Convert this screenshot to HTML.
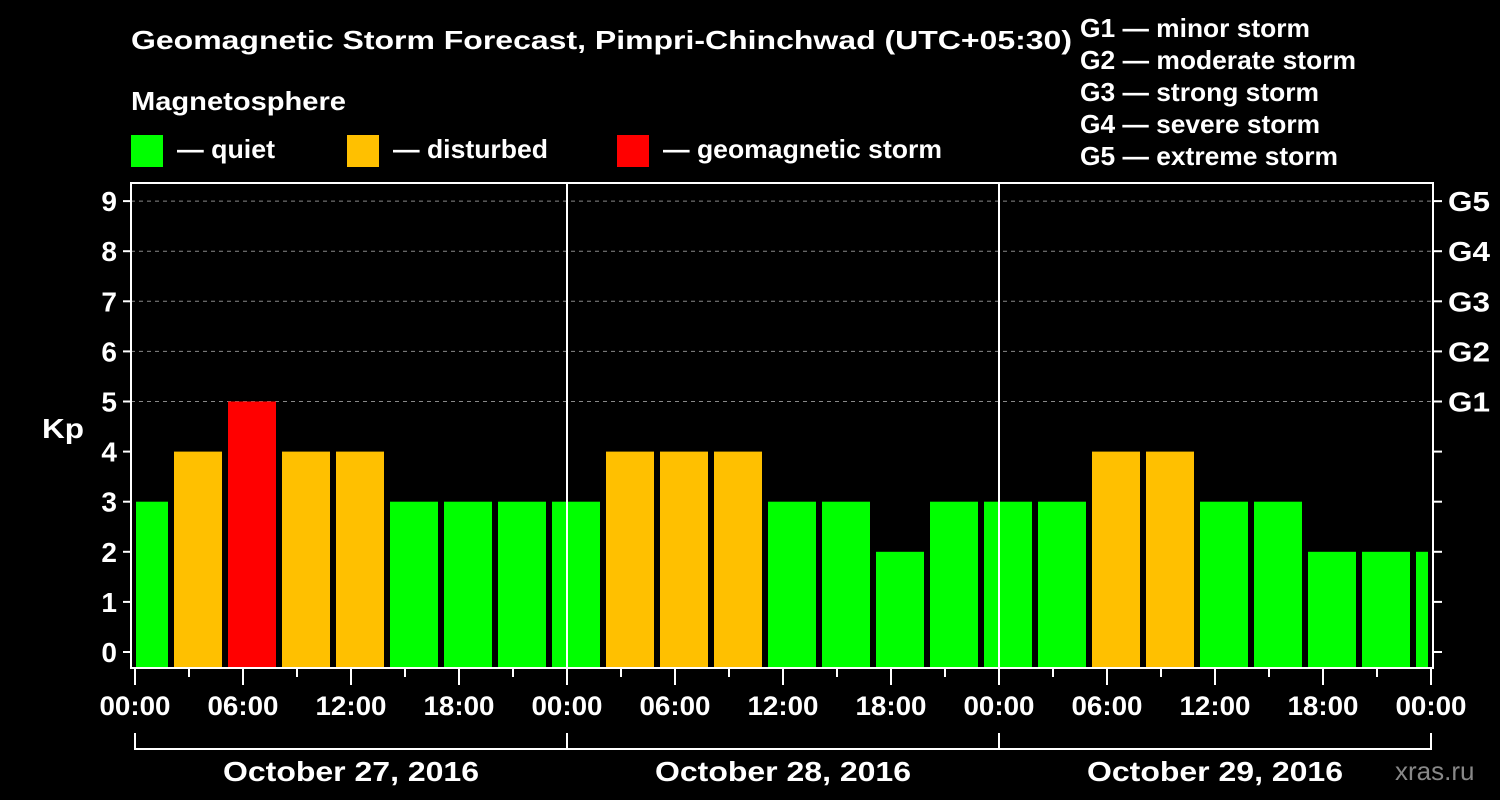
<!DOCTYPE html>
<html><head><meta charset="utf-8"><style>
body{margin:0;background:#000;}
svg{display:block;font-family:"Liberation Sans",Arial,sans-serif;font-weight:bold;}
</style></head><body>
<svg id="chart" width="1500" height="800" viewBox="0 0 1500 800">
<rect width="1500" height="800" fill="#000"/>
<text x="131" y="49" fill="#fff" font-size="26" textLength="941" lengthAdjust="spacingAndGlyphs">Geomagnetic Storm Forecast, Pimpri-Chinchwad (UTC+05:30)</text>
<text x="131" y="110" fill="#fff" font-size="26" textLength="215" lengthAdjust="spacingAndGlyphs">Magnetosphere</text>
<g><rect x="131" y="135" width="32" height="32" fill="#00ff00"/><text x="177" y="158" fill="#fff" font-size="26" textLength="98" lengthAdjust="spacingAndGlyphs">— quiet</text></g>
<g><rect x="347" y="135" width="32" height="32" fill="#ffc000"/><text x="393" y="158" fill="#fff" font-size="26" textLength="155" lengthAdjust="spacingAndGlyphs">— disturbed</text></g>
<g><rect x="617" y="135" width="32" height="32" fill="#ff0000"/><text x="663" y="158" fill="#fff" font-size="26" textLength="279" lengthAdjust="spacingAndGlyphs">— geomagnetic storm</text></g>
<g fill="#fff" font-size="26">
<text x="1080" y="37" textLength="230" lengthAdjust="spacingAndGlyphs">G1 — minor storm</text>
<text x="1080" y="69" textLength="276" lengthAdjust="spacingAndGlyphs">G2 — moderate storm</text>
<text x="1080" y="101" textLength="239" lengthAdjust="spacingAndGlyphs">G3 — strong storm</text>
<text x="1080" y="133" textLength="240" lengthAdjust="spacingAndGlyphs">G4 — severe storm</text>
<text x="1080" y="165" textLength="258" lengthAdjust="spacingAndGlyphs">G5 — extreme storm</text>
</g>
<text x="42" y="438" fill="#fff" font-size="28" textLength="42" lengthAdjust="spacingAndGlyphs">Kp</text>
<g id="grid"></g><g id="bars"></g><g id="axes"></g>
<text x="1395" y="780" fill="#888" font-size="26" font-weight="normal">xras.ru</text>
</svg>
<script>
const kpValues=[3,4,5,4,4,3,3,3,3,4,4,4,3,3,2,3,3,3,4,4,3,3,2,2,2];
const dayLabels=["October 27, 2016","October 28, 2016","October 29, 2016"];
const yTicks=[0,1,2,3,4,5,6,7,8,9];
const gLabels=["G1","G2","G3","G4","G5"];
const xTickLabels=["00:00","06:00","12:00","18:00"];
const NS="http://www.w3.org/2000/svg";
const L=131,R=1433,T=183,B=668,X0=135,PXH=18;
const y=v=>652-50.1*v;
const x=h=>X0+h*PXH;
function mk(tag,attrs,parent,text){const e=document.createElementNS(NS,tag);for(const k in attrs)e.setAttribute(k,attrs[k]);if(text!==undefined)e.textContent=text;document.getElementById(parent).appendChild(e);return e;}
for(let v=5;v<=9;v++){const g=mk('line',{x1:L,x2:R,y1:y(v),y2:y(v),stroke:'#888','stroke-dasharray':'4,4','stroke-width':1},'grid');

}
kpValues.forEach((v,i)=>{const c=0.5+3*i;let x1=Math.max(x(c-4/3),L+5),x2=Math.min(x(c+4/3),R-5);
const col=v>=5?'#ff0000':(v>=4?'#ffc000':'#00ff00');
const b=mk('rect',{x:x1,y:y(v),width:x2-x1,height:B-y(v),fill:col},'bars');

});
const f=mk('rect',{x:L,y:T,width:R-L,height:B-T,fill:'none',stroke:'#fff','stroke-width':2},'axes');


for(let d=1;d<3;d++){const l=mk('line',{x1:x(24*d),x2:x(24*d),y1:T,y2:B,stroke:'#fff','stroke-width':2},'axes');

}
yTicks.forEach(v=>{mk('line',{x1:L-8,x2:L,y1:y(v),y2:y(v),stroke:'#fff','stroke-width':2},'axes');
mk('line',{x1:R,x2:R+9,y1:y(v),y2:y(v),stroke:'#fff','stroke-width':2},'axes');
const t=mk('text',{x:L-14,y:y(v)+10,fill:'#fff','font-size':28,'text-anchor':'end'},'axes',String(v));

});
gLabels.forEach((g,i)=>{const t=mk('text',{x:1448,y:y(5+i)+10,fill:'#fff','font-size':28,textLength:42,lengthAdjust:'spacingAndGlyphs'},'axes',g);

});
for(let h=0;h<=72;h+=3){const major=h%6===0;mk('line',{x1:x(h),x2:x(h),y1:B,y2:major?685:677,stroke:'#fff','stroke-width':2},'axes');
if(major){const t=mk('text',{x:x(h),y:715,fill:'#fff','font-size':27,'text-anchor':'middle',textLength:71,lengthAdjust:'spacingAndGlyphs'},'axes',xTickLabels[(h/6)%4]);

}}
mk('line',{x1:x(0),x2:x(72),y1:749,y2:749,stroke:'#fff','stroke-width':2},'axes');
for(let d=0;d<=3;d++)mk('line',{x1:x(24*d),x2:x(24*d),y1:733,y2:750,stroke:'#fff','stroke-width':2},'axes');
dayLabels.forEach((s,d)=>{const t=mk('text',{x:x(24*d+12),y:781,fill:'#fff','font-size':28,'text-anchor':'middle',textLength:256,lengthAdjust:'spacingAndGlyphs'},'axes',s);

});
</script>
</body></html>
